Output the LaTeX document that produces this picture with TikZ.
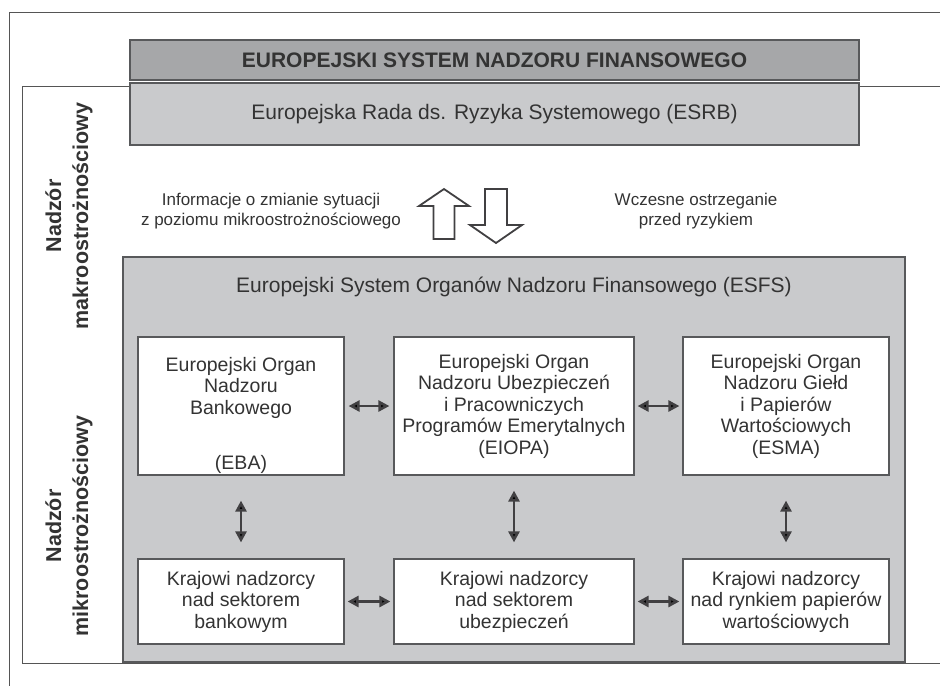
\documentclass[tikz,border=0pt]{standalone}
\usepackage{fontspec}
\setmainfont{Liberation Sans}
\usetikzlibrary{arrows.meta}
\definecolor{darkfill}{HTML}{A6A7A9}
\definecolor{lightfill}{HTML}{C9CACC}
\definecolor{boxline}{HTML}{58595B}
\definecolor{arrowgray}{HTML}{414042}
\definecolor{txtgray}{HTML}{333333}
\definecolor{framegray}{HTML}{555555}

\begin{document}
\begin{tikzpicture}[x=1pt,y=-1pt,>={Triangle[length=11pt,width=11pt]},
                    font=\fontsize{19.5}{21.5}\selectfont,text=txtgray,
                    box/.style={draw=boxline,line width=1.2pt,inner sep=0pt,align=center},
                    org node/.style={box,fill=white,minimum height=138pt},
                    nat node/.style={box,fill=white,minimum height=85pt},
                    link/.style={<->,draw=arrowgray,line width=2.6pt},
                    hollow/.style={draw=arrowgray,line width=1.8pt,fill=white,line join=miter},
                    side label/.style={rotate=90,align=center,font=\fontsize{21.5}{27}\selectfont\bfseries},
                    flow label/.style={align=center,font=\fontsize{17}{20}\selectfont},
                    frame/.style={draw=framegray,line width=1pt}]
  \useasboundingbox (0,0) rectangle (940,686);

  % frames
  \draw[frame] (940,12) -- (9,12) -- (9,686);
  \draw[frame] (940,86.5) -- (22,86.5) -- (22,663.5) -- (940,663.5);

  \node[side label] (macro) at (69,216) {Nadzór\\makroostrożnościowy};
  \node[side label] (micro) at (69,526) {Nadzór\\mikroostrożnościowy};

  % top level
  \node[box,fill=darkfill,minimum width=729pt,minimum height=40pt,
        font=\fontsize{21}{23}\selectfont\bfseries] (efsf) at (494.5,60)
        {EUROPEJSKI SYSTEM NADZORU FINANSOWEGO};
  \node[box,fill=lightfill,minimum width=729pt,minimum height=62pt,
        font=\fontsize{21}{23}\selectfont] (esrb) at (494.5,114)
        {Europejska Rada ds. Ryzyka Systemowego (ESRB)};

  \node[flow label] (info) at (271,211) {Informacje o zmianie sytuacji\\z poziomu mikroostrożnościowego};
  \node[flow label] (warn) at (696,211) {Wczesne ostrzeganie\\przed ryzykiem};
  \draw[hollow] (444,189) -- (469,206) -- (454.5,206) -- (454.5,239) -- (433.5,239)
        -- (433.5,206) -- (419,206) -- cycle;
  \draw[hollow] (485,189) -- (507,189) -- (507,225) -- (522,225) -- (496,243)
        -- (470,225) -- (485,225) -- cycle;

  % ESFS
  \node[box,fill=lightfill,minimum width=782pt,minimum height=405pt] (esfs) at (514,459.5) {};
  \node[font=\fontsize{21}{23}\selectfont] (esfsname) at (514,287)
        {Europejski System Organów Nadzoru Finansowego (ESFS)};

  \node[org node,minimum width=206pt] (eba) at (241,406)
        {\rule{0pt}{33pt}Europejski Organ\\Nadzoru\\Bankowego\\[33.5pt](EBA)};
  \node[org node,minimum width=240pt] (eiopa) at (514,406)
        {Europejski Organ\\Nadzoru Ubezpieczeń\\i Pracowniczych\\Programów Emerytalnych\\(EIOPA)};
  \node[org node,minimum width=206pt] (esma) at (786,406)
        {Europejski Organ\\Nadzoru Giełd\\i Papierów\\Wartościowych\\(ESMA)};

  \node[nat node,minimum width=206pt] (knb) at (241,601.5)
        {Krajowi nadzorcy\\nad sektorem\\bankowym};
  \node[nat node,minimum width=240pt] (kni) at (514,601.5)
        {Krajowi nadzorcy\\nad sektorem\\ubezpieczeń};
  \node[nat node,minimum width=206pt] (kns) at (786,601.5)
        {Krajowi nadzorcy\\nad rynkiem papierów\\wartościowych};

  \path[link]
    (eba)   edge[shorten <=4pt,shorten >=4pt] (eiopa)
    (eiopa) edge[shorten <=3pt,shorten >=3pt] (esma)
    (knb)   edge[shorten <=3pt,shorten >=3pt] (kni)
    (kni)   edge[shorten <=3pt,shorten >=3pt] (kns)
    (eba)   edge[shorten <=25pt,shorten >=16pt] (knb)
    (eiopa) edge[shorten <=15pt,shorten >=16pt] (kni)
    (esma)  edge[shorten <=25pt,shorten >=16pt] (kns);
\end{tikzpicture}
\end{document}
